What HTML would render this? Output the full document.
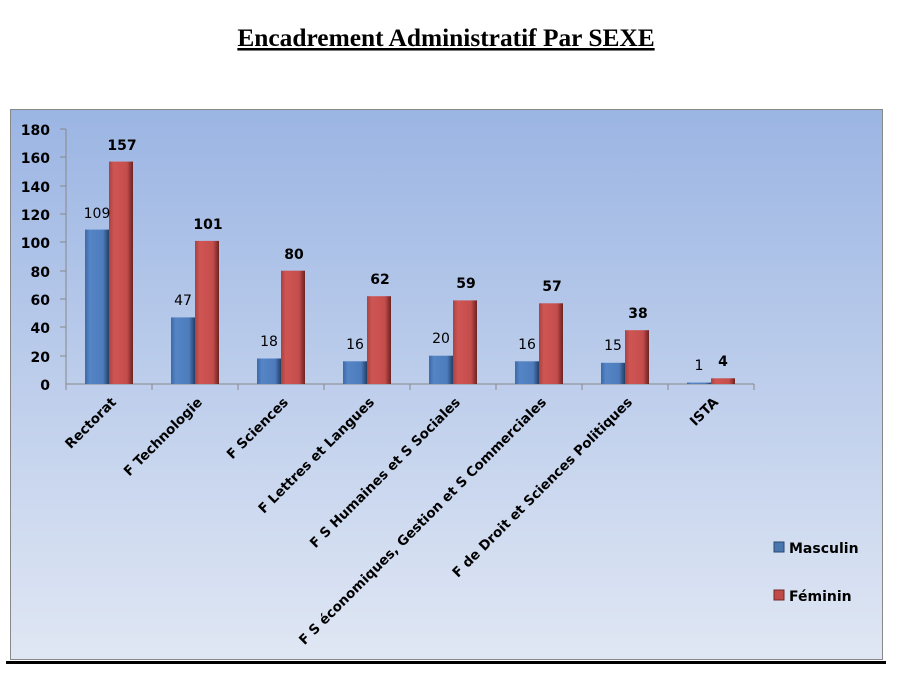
<!DOCTYPE html>
<html><head><meta charset="utf-8"><style>
body{margin:0;background:#fff;width:899px;height:685px;overflow:hidden;font-family:"DejaVu Sans",sans-serif}
</style></head><body>
<svg width="899" height="685" xmlns="http://www.w3.org/2000/svg" font-family="DejaVu Sans, sans-serif">
<defs>
<linearGradient id="bg" x1="0" y1="0" x2="0" y2="1"><stop offset="0" stop-color="#9bb5e3"/><stop offset="1" stop-color="#e0e7f4"/></linearGradient>
<linearGradient id="bl" x1="0" y1="0" x2="1" y2="0"><stop offset="0" stop-color="#3d6aa6"/><stop offset="0.2" stop-color="#5585c6"/><stop offset="0.75" stop-color="#4d7cbc"/><stop offset="1" stop-color="#233f66"/></linearGradient>
<linearGradient id="rd" x1="0" y1="0" x2="1" y2="0"><stop offset="0" stop-color="#a84242"/><stop offset="0.2" stop-color="#cf5553"/><stop offset="0.75" stop-color="#c44d4b"/><stop offset="1" stop-color="#6a2222"/></linearGradient>
</defs>
<text x="446" y="46" text-anchor="middle" font-family="Liberation Serif" font-weight="bold" font-size="25.4" text-decoration="underline">Encadrement Administratif Par SEXE</text>
<rect x="10.5" y="109.5" width="872" height="550" fill="url(#bg)" stroke="#888"/>
<rect x="6" y="661" width="880" height="3" fill="#000"/>
<g stroke="#888" fill="none">
<line x1="66" y1="129" x2="66" y2="384"/><line x1="66" y1="384" x2="754" y2="384"/>
</g>
<g font-weight="bold" font-size="14" text-anchor="end">
<text x="50" y="135">180</text><text x="50" y="163">160</text><text x="50" y="192">140</text><text x="50" y="220">120</text><text x="50" y="248">100</text><text x="50" y="277">80</text><text x="50" y="305">60</text><text x="50" y="333">40</text><text x="50" y="362">20</text><text x="50" y="390">0</text>
</g>
<g stroke="#888">
<line x1="60" x2="66" y1="129" y2="129"/><line x1="60" x2="66" y1="157" y2="157"/><line x1="60" x2="66" y1="186" y2="186"/><line x1="60" x2="66" y1="214" y2="214"/><line x1="60" x2="66" y1="242" y2="242"/><line x1="60" x2="66" y1="271" y2="271"/><line x1="60" x2="66" y1="299" y2="299"/><line x1="60" x2="66" y1="327" y2="327"/><line x1="60" x2="66" y1="356" y2="356"/>
<line x1="66" x2="66" y1="384" y2="390"/><line x1="152" x2="152" y1="384" y2="390"/><line x1="238" x2="238" y1="384" y2="390"/><line x1="324" x2="324" y1="384" y2="390"/><line x1="410" x2="410" y1="384" y2="390"/><line x1="496" x2="496" y1="384" y2="390"/><line x1="582" x2="582" y1="384" y2="390"/><line x1="668" x2="668" y1="384" y2="390"/><line x1="754" x2="754" y1="384" y2="390"/>
</g>
<g font-size="14">
<rect x="85" y="229.6" width="24" height="154.4" fill="url(#bl)"/>
<rect x="171" y="317.4" width="24" height="66.6" fill="url(#bl)"/>
<rect x="257" y="358.5" width="24" height="25.5" fill="url(#bl)"/>
<rect x="343" y="361.3" width="24" height="22.7" fill="url(#bl)"/>
<rect x="429" y="355.7" width="24" height="28.3" fill="url(#bl)"/>
<rect x="515" y="361.3" width="24" height="22.7" fill="url(#bl)"/>
<rect x="601" y="362.8" width="24" height="21.2" fill="url(#bl)"/>
<rect x="687" y="382.6" width="24" height="1.4" fill="url(#bl)"/>
<rect x="109" y="161.6" width="24" height="222.4" fill="url(#rd)"/>
<rect x="195" y="240.9" width="24" height="143.1" fill="url(#rd)"/>
<rect x="281" y="270.7" width="24" height="113.3" fill="url(#rd)"/>
<rect x="367" y="296.2" width="24" height="87.8" fill="url(#rd)"/>
<rect x="453" y="300.4" width="24" height="83.6" fill="url(#rd)"/>
<rect x="539" y="303.3" width="24" height="80.7" fill="url(#rd)"/>
<rect x="625" y="330.2" width="24" height="53.8" fill="url(#rd)"/>
<rect x="711" y="378.3" width="24" height="5.7" fill="url(#rd)"/>
<g text-anchor="middle">
<text x="97" y="218">109</text><text x="183" y="305">47</text><text x="269" y="346">18</text><text x="355" y="349">16</text><text x="441" y="343">20</text><text x="527" y="349">16</text><text x="613" y="350">15</text><text x="699" y="370">1</text>
<g font-weight="bold"><text x="122" y="150">157</text><text x="208" y="229">101</text><text x="294" y="259">80</text><text x="380" y="284">62</text><text x="466" y="288">59</text><text x="552" y="291">57</text><text x="638" y="318">38</text><text x="723" y="366">4</text></g>
</g>
</g>
<g font-weight="bold" font-size="13.5" text-anchor="end">
<text transform="translate(117,403) rotate(-45)">Rectorat</text>
<text transform="translate(203,403) rotate(-45)">F Technologie</text>
<text transform="translate(289,403) rotate(-45)">F Sciences</text>
<text transform="translate(375,403) rotate(-45)">F Lettres et Langues</text>
<text transform="translate(461,403) rotate(-45)">F S Humaines et S Sociales</text>
<text transform="translate(547,403) rotate(-45)">F S économiques, Gestion et S Commerciales</text>
<text transform="translate(633,403) rotate(-45)">F de Droit et Sciences Politiques</text>
<text transform="translate(719,403) rotate(-45)">ISTA</text>
</g>
<rect x="774" y="542" width="10" height="10" fill="#4a76b0" stroke="#2a4870"/>
<rect x="774" y="590" width="10" height="10" fill="#c04a48" stroke="#702828"/>
<g font-weight="bold" font-size="14"><text x="789" y="553">Masculin</text><text x="789" y="601">Féminin</text></g>
</svg>
</body></html>
